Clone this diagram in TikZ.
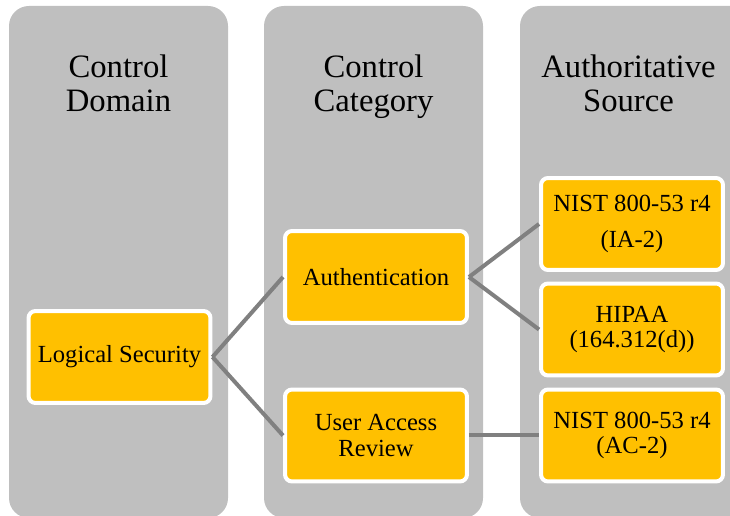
\documentclass[tikz,border=0pt]{standalone}
\usepackage{fontspec}
\setmainfont{Liberation Serif}
\definecolor{lanegray}{RGB}{191,191,191}
\definecolor{boxorange}{RGB}{255,192,0}
\definecolor{linkgray}{RGB}{128,128,128}
\begin{document}
\begin{tikzpicture}[
    x=0.02cm, y=-0.02cm,
    lane/.style    = {fill=lanegray, rounded corners=0.4cm},
    heading/.style = {align=center, font=\fontsize{18.6}{19.3}\selectfont},
    box/.style     = {draw=white, line width=0.08cm, fill=boxorange, rounded corners=0.14cm,
                      minimum width=3.64cm, minimum height=1.84cm, inner sep=2pt,
                      align=center, font=\fontsize{14}{14.7}\selectfont},
    link/.style    = {draw=linkgray, line width=0.08cm},
  ]

	\useasboundingbox (0,0) rectangle (730,516);
	\clip (0,0) rectangle (730,516);

	% Spalten
	\fill[lane] (9,6) rectangle (228,518);
	\fill[lane] (264,6) rectangle (483,518);
	\fill[lane] (520,6) rectangle (770,518);

	% Ueberschriften
	\node[heading] (H1) at (118.5,88) {Control\strut\\Domain\strut};
	\node[heading] (H2) at (373.5,88) {Control\strut\\Category\strut};
	\node[heading] (H3) at (628.5,88) {Authoritative\strut\\Source\strut};

	% Kaesten
	\node[box] (logic) at (119.5,357) {Logical Security};
	\node[box] (auth)  at (376,277)   {Authentication};
	\node[box] (uar)   at (376,435.5) {User Access\\Review};
	\node[box] (nist1) at (632,224)   {NIST 800-53 r4\\[6pt](IA-2)};
	\node[box] (hipaa) at (632,329.5) {HIPAA\\(164.312(d))};
	\node[box] (nist2) at (632,435.5) {NIST 800-53 r4\\(AC-2)};

	% Verbindungen
	\draw[link] (logic.east) -- (auth.west);
	\draw[link] (logic.east) -- (uar.west);
	\draw[link] (auth.east) -- (nist1.west);
	\draw[link] (auth.east) -- (hipaa.west);
	\draw[link] (uar.east) -- (nist2.west);

\end{tikzpicture}
\end{document}
